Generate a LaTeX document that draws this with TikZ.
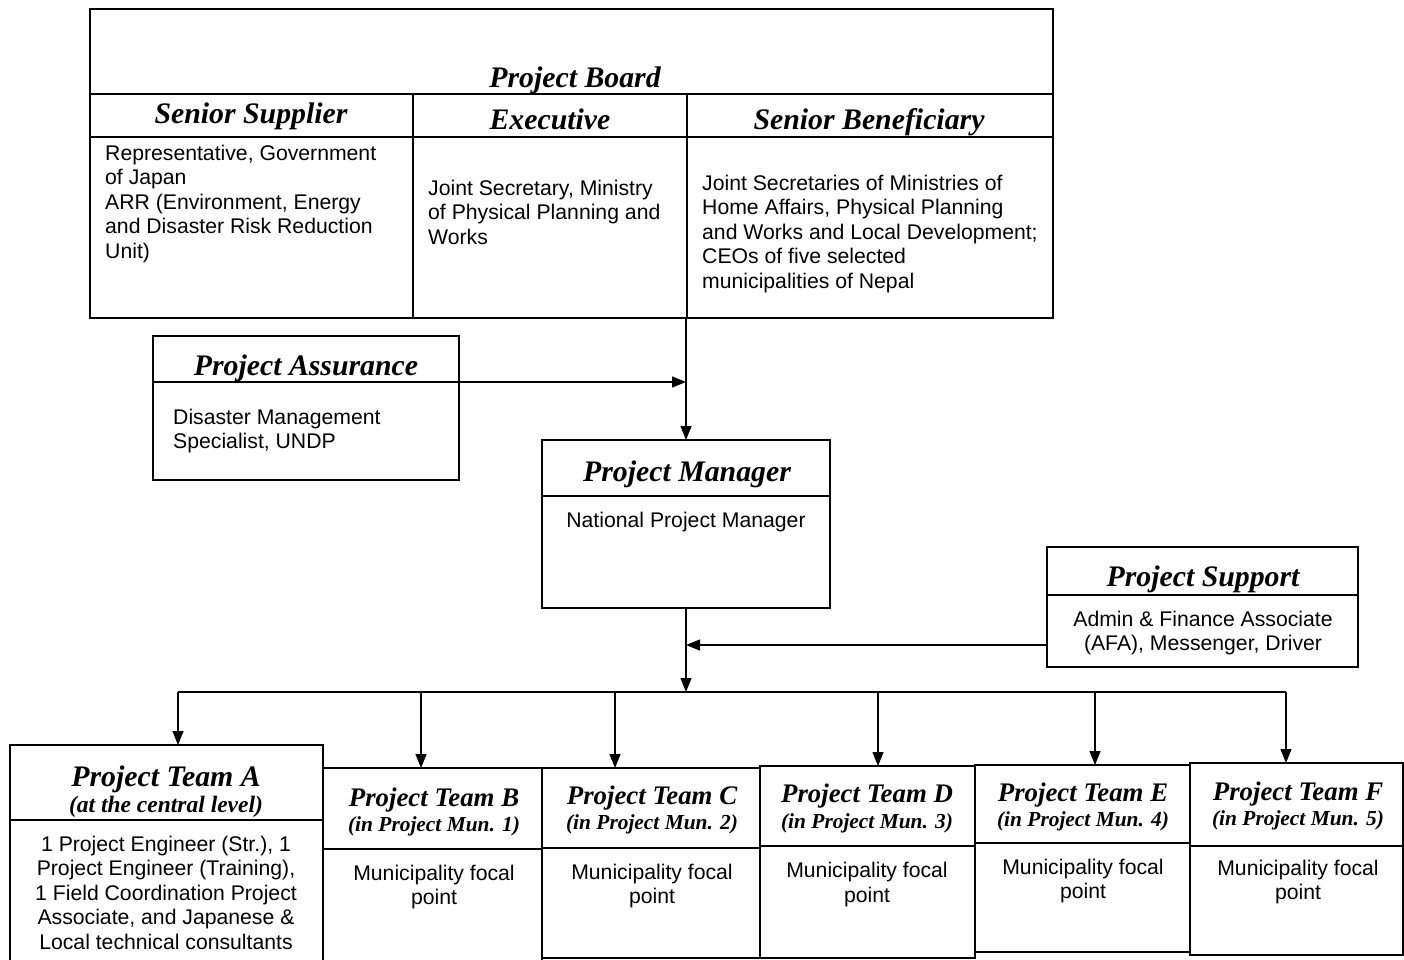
\documentclass[tikz,border=0pt]{standalone}
\usepackage{fontspec}
\setmainfont{Liberation Sans}
\newfontfamily\hfont{Liberation Serif}
\usetikzlibrary{arrows.meta}
\tikzset{
 box/.style={draw, line width=1.3pt, inner sep=0pt, outer sep=0pt},
 rule/.style={line width=1.2pt},
 arr/.style={line width=1.2pt, -{Triangle[length=14pt,width=11pt]}},
 head/.style={font=\hfont\bfseries\itshape\fontsize{29.8}{31}\selectfont, inner sep=0pt, anchor=base},
 thead/.style={font=\hfont\bfseries\itshape\fontsize{26.8}{28}\selectfont, inner sep=0pt, anchor=base},
 subh/.style={font=\hfont\bfseries\itshape\fontsize{21.4}{24}\selectfont, inner sep=0pt, anchor=base},
 subha/.style={font=\hfont\bfseries\itshape\fontsize{23.5}{25}\selectfont, inner sep=0pt, anchor=base},
 body/.style={font=\fontsize{21.2}{24.5}\selectfont, inner sep=0pt, align=left, anchor=north west},
 cbody/.style={font=\fontsize{21.2}{24.5}\selectfont, inner sep=0pt, align=center, anchor=north},
}
\begin{document}
\begin{tikzpicture}[x=1pt,y=-1pt]
\useasboundingbox (0,0) rectangle (1404,960);
% Project Board
\node[box, minimum width=963pt, minimum height=309pt] (board) at (571.5,163.5) {};
\draw[rule] (90,94) -- (1053,94);
\draw[rule] (90,137) -- (1053,137);
\draw[rule] (413,94) -- (413,318);
\draw[rule] (687,94) -- (687,318);
\node[head] (tboard) at (575,88) {Project Board};
\node[head] (tsup) at (251,124) {Senior Supplier};
\node[head] (texe) at (550,130) {Executive};
\node[head] (tben) at (869,130) {Senior Beneficiary};
\node[body] (bsup) at (105,144.5) {Representative, Government\\of Japan\\ARR (Environment, Energy\\and Disaster Risk Reduction\\Unit)};
\node[body] (bexe) at (428,179.5) {Joint Secretary, Ministry\\of Physical Planning and\\Works};
\node[body] (bben) at (702,174.5) {Joint Secretaries of Ministries of\\Home Affairs, Physical Planning\\and Works and Local Development;\\CEOs of five selected\\municipalities of Nepal};
% Project Assurance
\node[box, minimum width=306pt, minimum height=144pt] (pa) at (306,408) {};
\draw[rule] (153,382) -- (459,382);
\node[head] (tpa) at (306,375) {Project Assurance};
\node[body] (bpa) at (173,408.5) {Disaster Management\\Specialist, UNDP};
% Project Manager
\node[box, minimum width=288pt, minimum height=168pt] (pm) at (686,524) {};
\draw[rule] (542,496) -- (830,496);
\node[head] (tpm) at (687,481) {Project Manager};
\node[cbody] (bpm) at (686,511.5) {National Project Manager};
% Project Support
\node[box, minimum width=311pt, minimum height=120pt] (ps) at (1202.5,607) {};
\draw[rule] (1047,595) -- (1358,595);
\node[head] (tps) at (1203,586) {Project Support};
\node[cbody] (bps) at (1203,610.5) {Admin \& Finance Associate\\(AFA), Messenger, Driver};
% Teams
\node[box, minimum width=313pt, minimum height=217pt] (ta) at (166.5,853.5) {};
\node[box, minimum width=219pt, minimum height=194pt] (tb) at (432.5,865) {};
\node[box, minimum width=218pt, minimum height=190pt] (tc) at (651,863) {};
\node[box, minimum width=215pt, minimum height=192pt] (td) at (867.5,862) {};
\node[box, minimum width=215pt, minimum height=187pt] (te) at (1082.5,858.5) {};
\node[box, minimum width=213pt, minimum height=192pt] (tf) at (1296.5,859) {};
\draw[rule] (10,820) -- (323,820);
\draw[rule] (323,849) -- (542,849);
\draw[rule] (542,848) -- (760,848);
\draw[rule] (760,846) -- (975,846);
\draw[rule] (975,843) -- (1190,843);
\draw[rule] (1190,846) -- (1403,846);
\node[head] (tta) at (166,786) {Project Team A};
\node[subha] (sta) at (166,812) {(at the central level)};
\node[thead] (ttb) at (434,806) {Project Team B};
\node[subh] (stb) at (434,831) {(in Project Mun. 1)};
\node[thead] (ttc) at (652,804) {Project Team C};
\node[subh] (stc) at (652,829) {(in Project Mun. 2)};
\node[thead] (ttd) at (867,802) {Project Team D};
\node[subh] (std) at (867,828) {(in Project Mun. 3)};
\node[thead] (tte) at (1083,801) {Project Team E};
\node[subh] (ste) at (1083,826) {(in Project Mun. 4)};
\node[thead] (ttf) at (1298,800) {Project Team F};
\node[subh] (stf) at (1298,825) {(in Project Mun. 5)};
\node[cbody] (bta) at (166,835.5) {1 Project Engineer (Str.), 1\\Project Engineer (Training),\\1 Field Coordination Project\\Associate, and Japanese \&\\Local technical consultants};
\node[cbody] (btb) at (434,864.5) {Municipality focal\\point};
\node[cbody] (btc) at (652,863.5) {Municipality focal\\point};
\node[cbody] (btd) at (867,862) {Municipality focal\\point};
\node[cbody] (bte) at (1083,858.5) {Municipality focal\\point};
\node[cbody] (btf) at (1298,859.5) {Municipality focal\\point};
% connectors
\coordinate (j1) at (686,382);
\coordinate (j2) at (686,645);
\coordinate (bus) at (686,692);
\coordinate (dA) at (178,692);
\coordinate (dB) at (421,692);
\coordinate (dC) at (615,692);
\coordinate (dD) at (878,692);
\coordinate (dE) at (1095,692);
\coordinate (dF) at (1286,692);
\draw[arr] (board.south -| pm.north) -- (pm.north);
\draw[arr] (pa.east |- j1) -- (j1);
\draw[arr] (ps.west |- j2) -- (j2);
\draw[arr] (pm.south) -- (bus);
\draw[rule] (dA) -- (dF);
\draw[arr] (dA) -- (dA |- ta.north);
\draw[arr] (dB) -- (dB |- tb.north);
\draw[arr] (dC) -- (dC |- tc.north);
\draw[arr] (dD) -- (dD |- td.north);
\draw[arr] (dE) -- (dE |- te.north);
\draw[arr] (dF) -- (dF |- tf.north);
\end{tikzpicture}
\end{document}
